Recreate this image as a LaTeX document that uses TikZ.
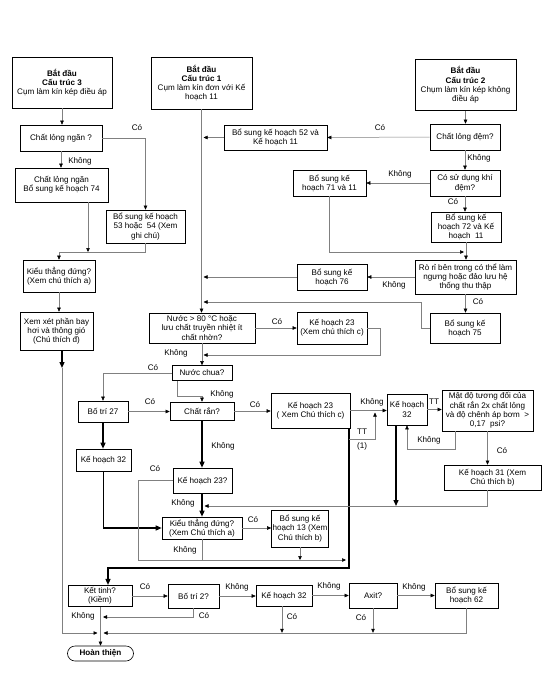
\documentclass[tikz,border=0pt]{standalone}
\usepackage{fontspec}
\setmainfont{Liberation Sans}
\usetikzlibrary{arrows.meta}
\begin{document}
\begin{tikzpicture}[x=1pt,y=-1pt,
 bx/.style={draw, line width=0.6pt, align=center, inner sep=0.5pt, font=\fontsize{8.1}{9.2}\selectfont},
 ln/.style={draw=black!50, line width=0.5pt},
 ar/.style={ln, -{Triangle[length=4pt,width=3.5pt,color=black]}},
 tk/.style={draw=black, line width=1.3pt},
 tka/.style={tk, -{Triangle[length=6pt,width=5pt]}},
 lb/.style={font=\fontsize{8.1}{9.2}\selectfont, inner sep=0pt, align=center}]
\useasboundingbox (0,0) rectangle (554,683);
\fill[white] (0,0) rectangle (554,683);

% ---- start boxes
\node[bx,minimum width=100pt,minimum height=51pt] (s3) at (62,82.5) {\textbf{Bắt đầu}\\\textbf{Cấu trúc 3}\\Cụm làm kín kép điều áp};
\node[bx,minimum width=101pt,minimum height=52pt] (s1) at (201.5,83) {\textbf{Bắt đầu}\\\textbf{Cấu trúc 1}\\Cụm làm kín đơn với Kế\\hoạch 11};
\node[bx,minimum width=101pt,minimum height=51pt] (s2) at (465.5,85) {\textbf{Bắt đầu}\\\textbf{Cấu trúc 2}\\Chụm làm kín kép không\\điều áp};

% ---- left column
\node[bx,minimum width=82pt,minimum height=26pt] (q3) at (61,138) {Chất lỏng ngăn ?};
\node[bx,minimum width=93pt,minimum height=34pt] (cln) at (61.5,185) {Chất lỏng ngăn\\Bổ sung kế hoạch 74};
\node[bx,minimum width=79pt,minimum height=33pt] (p5354) at (145.5,226.5) {Bổ sung kế hoạch\\53 hoặc~ 54 (Xem\\ghi chú)};
\node[bx,minimum width=72pt,minimum height=32pt] (kieu1) at (59,276) {Kiểu thẳng đứng?\\(Xem chú thích a)};
\node[bx,minimum width=73pt,minimum height=38pt] (xemxet) at (56.5,331) {Xem xét phần bay\\hơi và thông gió\\(Chú thích đ)};

% ---- structure 1 / 2
\node[bx,minimum width=103pt,minimum height=25pt] (p52) at (275.5,137.5) {Bổ sung kế hoạch 52 và\\Kế hoạch 11};
\node[bx,minimum width=70pt,minimum height=26pt] (cld) at (465,137) {Chất lỏng đệm?};
\node[bx,minimum width=70pt,minimum height=26pt] (cosd) at (465,183) {Có sử dụng khí\\đệm?};
\node[bx,minimum width=73pt,minimum height=26pt] (p71) at (329.5,183) {Bổ sung kế\\hoạch 71 và 11};
\node[bx,minimum width=70pt,minimum height=30pt] (p72) at (466,227) {Bổ sung kế\\hoạch 72 và Kế\\hoạch~ 11};
\node[bx,minimum width=101pt,minimum height=34pt] (rori) at (465.5,277) {Rò rỉ bên trong có thể làm\\ngưng hoặc đảo lưu hệ\\thống thu thập};
\node[bx,minimum width=70pt,minimum height=26pt] (p76) at (332,277) {Bổ sung kế\\hoạch 76};
\node[bx,minimum width=70pt,minimum height=30pt] (p75) at (465,328) {Bổ sung kế\\hoạch 75};
\node[bx,minimum width=106pt,minimum height=30pt] (n80) at (202,328) {Nước > 80 °C hoặc\\lưu chất truyền nhiệt ít\\chất nhờn?};
\node[bx,minimum width=70pt,minimum height=32pt] (k23a) at (332,328) {Kế hoạch 23\\(Xem chú thích c)};
\node[bx,minimum width=60pt,minimum height=15pt] (nchua) at (202,373) {Nước chua?};
\node[bx,minimum width=64pt,minimum height=18pt] (cran) at (202,411) {Chất rắn?};
\node[bx,minimum width=50pt,minimum height=21pt] (bt27) at (103,411.5) {Bố trí 27};
\node[bx,minimum width=55pt,minimum height=22pt] (k32a) at (103.5,460) {Kế hoạch 32};
\node[bx,minimum width=59pt,minimum height=25pt] (k23q) at (202.5,480.5) {Kế hoạch 23?};
\node[bx,minimum width=80pt,minimum height=22pt] (kieu2) at (202,528) {Kiểu thẳng đứng?\\(Xem Chú thích a)};
\node[bx,minimum width=57pt,minimum height=37pt] (p13) at (300,528.5) {Bổ sung kế\\hoạch 13 (Xem\\Chú thích b)};
\node[bx,minimum width=79pt,minimum height=35pt] (k23b) at (310.5,410.5) {Kế hoạch 23\\( Xem Chú thích c)};
\node[bx,minimum width=40pt,minimum height=31pt] (k32c) at (407,409.5) {Kế hoạch\\32};
\node[bx,minimum width=91pt,minimum height=41pt] (matdo) at (487.5,410.5) {Mật độ tương đối của\\chất rắn 2x chất lỏng\\và độ chênh áp bơm~ >\\0,17~ psi?};
\node[bx,minimum width=97pt,minimum height=25pt] (k31) at (492.5,477.5) {Kế hoạch 31 (Xem\\Chú thích b)};

% ---- bottom row
\node[bx,minimum width=64pt,minimum height=21.5pt] (kt) at (100,596) {Kết tinh?\\(Kiềm)};
\node[bx,minimum width=51pt,minimum height=24pt] (bt2) at (193.5,596) {Bố trí 2?};
\node[bx,minimum width=56pt,minimum height=21pt] (k32b) at (284,595.5) {Kế hoạch 32};
\node[bx,minimum width=48pt,minimum height=25pt] (axit) at (373,595.5) {Axit?};
\node[bx,minimum width=63pt,minimum height=25pt] (p62) at (466.5,595.5) {Bổ sung kế\\hoạch 62};
\node[bx,rounded corners=7.5pt,minimum width=66pt,minimum height=15pt,font=\fontsize{8.1}{9.2}\selectfont\bfseries] (hoan) at (100.5,653.5) {Hoàn thiện};

% ---- junction coordinates
\coordinate (j1) at (88,252);
\coordinate (j2) at (59,252);
\coordinate (j3) at (62,368);
\coordinate (hj) at (100.5,633);
\coordinate (hl) at (97.5,633);
\coordinate (hr) at (103.5,633);
\coordinate (m137) at (203.5,137.5);
\coordinate (m277) at (203.5,277);
\coordinate (j5) at (203.5,302);
\coordinate (j6) at (203.5,355);
\coordinate (j4) at (464,252);
\coordinate (j7) at (177,396);
\coordinate (j8) at (138,560);
\coordinate (j9) at (346,560);
\coordinate (j11) at (204.5,506);
\coordinate (j12) at (396,506);
\coordinate (j10) at (455,449);
\coordinate (t1) at (349,568);
\coordinate (j13) at (103,617);

% ---- connectors, structure 3
\draw[ar] (s3.south) -- (s3.south |- q3.north);
\draw[ar] (q3.south) -- (q3.south |- cln.north);
\node[lb] at (80,161) {Không};
\draw[ar] (q3.east) -| (p5354.north);
\node[lb] at (137,128) {Có};
\draw[ar] (cln.south -| j1) -- (j1);
\draw[ln] (p5354.south) |- (j2);
\draw[ar] (j2) -- (kieu1.north);
\draw[ar] (kieu1.south) -- (kieu1.south |- xemxet.north);
\draw[tka] (xemxet.south -| j3) -- (j3);
\draw[ar] (j3) |- (hl);

% ---- structure 1 main line
\draw[ar] (s1.south) -- (s1.south |- n80.north);
\draw[ar] (p52.west) -- (m137);
\draw[ar] (cld.west) -- (p52.east);
\node[lb] at (380,128) {Có};
\draw[ar] (s2.south) -- (s2.south |- cld.north);
\draw[ar] (cld.south) -- (cld.south |- cosd.north);
\node[lb] at (479,158) {Không};
\draw[ar] (cosd.west) -- (p71.east);
\node[lb] at (400,174) {Không};
\draw[ar] (cosd.south) -- (cosd.south |- p72.north);
\node[lb] at (453,202) {Có};
\draw[ar] (p71.south) |- (j4);
\draw[ar] (p72.south) -- (p72.south |- rori.north);
\draw[ar] (rori.west) -- (p76.east);
\node[lb] at (394,285) {Không};
\draw[ar] (p76.west) -- (m277);
\draw[ar] (rori.south) -- (rori.south |- p75.north);
\node[lb] at (478,302) {Có};
\draw[ar] (p75.west) -- (421,328) -- (421,302) -- (j5);
\draw[ar] (n80.east) -- (k23a.west);
\node[lb] at (277,322) {Có};
\draw[ar] (k23a.east) -- (380,328) -- (380,355) -- (j6);
\draw[ar] (n80.south) -- (n80.south |- nchua.north);
\node[lb] at (176,353) {Không};
\draw[ar] (nchua.west) -| (bt27.north);
\node[lb] at (153,368) {Có};
\draw[ln] (nchua.south -| j7) -- (j7);
\draw[ar] (j7) -| (cran.north);
\node[lb] at (222,394) {Không};
\draw[ar] (bt27.east) -- (bt27.east -| cran.west);
\node[lb] at (150,402) {Có};
\draw[tka] (bt27.south) -- (bt27.south |- k32a.north);
\draw[tka] (k32a.south) |- (kieu2.west);
\draw[tka] (cran.south) -- (cran.south |- k23q.north);
\node[lb] at (223,446) {Không};
\draw[ar] (cran.east) -- (cran.east -| k23b.west);
\node[lb] at (255,405) {Có};
\draw[tka] (k23q.south -| cran.south) -- (cran.south |- kieu2.north);
\node[lb] at (183,503) {Không};
\draw[ln] (k23q.west) -| (j8);
\draw[ar] (j8) -- (j9);
\node[lb] at (155,469) {Có};
\draw[ar] (kieu2.east) -- (kieu2.east -| p13.west);
\node[lb] at (253,520) {Có};
\draw[ln] (kieu2.south) -- (kieu2.south |- j8);
\node[lb] at (185,550) {Không};
\draw[ar] (p13.south) -- (p13.south |- j8);

% ---- right part
\draw[tka] (k23b.south -| t1) -- (t1) -| ([xshift=8pt]kt.north);
\draw[ar] (349,439) -- (375,439) -- (375,412.5);
\node[lb] at (362,432) {TT};
\node[lb] at (362,446) {(1)};
\draw[ar] (k23b.east) -- (k23b.east -| k32c.west);
\node[lb] at (372,402) {Không};
\draw[ar] (k32c.east) -- (k32c.east -| matdo.west);
\node[lb] at (434,402) {TT};
\draw[ar] (matdo.south -| j10) -- (j10) -| (k32c.south);
\node[lb] at (429,440) {Không};
\draw[ar] (matdo.south) -- (matdo.south |- k31.north);
\node[lb] at (502,451) {Có};
\draw[ar] (k31.south -| matdo.south) |- (j11);
\draw[tka] (k32c.south -| j12) -- (j12);

% ---- bottom row
\draw[ar] (kt.east) -- (kt.east -| bt2.west);
\node[lb] at (145,587) {Có};
\draw[ar] (bt2.east) -- (bt2.east -| k32b.west);
\node[lb] at (237,587) {Không};
\draw[ar] (k32b.east) -- (k32b.east -| axit.west);
\node[lb] at (329,586) {Không};
\draw[ar] (axit.east) -- (axit.east -| p62.west);
\node[lb] at (414,587) {Không};
\draw[ar] ([xshift=-2pt]k32b.south) -- ++(0,26.5);
\node[lb] at (292,617) {Có};
\draw[ar] (axit.south) -- ++(0,24.5);
\node[lb] at (361,618) {Có};
\draw[ar] (p62.south) |- (hr);
\draw[ar] (bt2.south) |- (j13);
\node[lb] at (204,616) {Có};
\draw[ln] (kt.south) -- (kt.south |- hj);
\node[lb] at (83,616) {Không};
\draw[ar] (hj) -- (hoan.north);
\end{tikzpicture}
\end{document}
